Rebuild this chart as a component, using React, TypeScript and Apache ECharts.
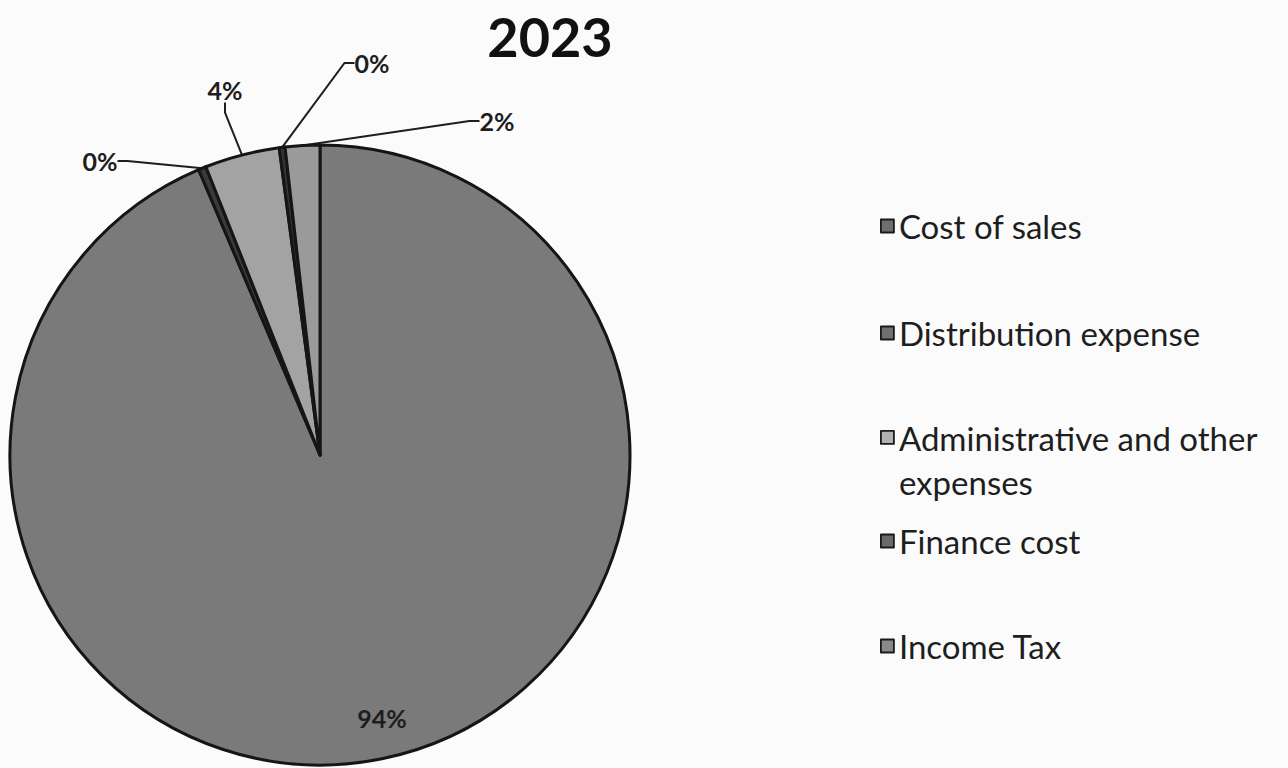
import React, { useEffect, useRef } from "react";
import * as echarts from "echarts";

const titleText = "2023";
const categories = [
  "Cost of sales",
  "Distribution expense",
  "Administrative and other expenses",
  "Finance cost",
  "Income Tax",
];
const values = [93.6, 0.4, 3.9, 0.3, 1.8];
const sliceColors = ["#7a7a7a", "#3a3a3a", "#a3a3a3", "#333333", "#9a9a9a"];
const legendColors = ["#6e6e6e", "#707070", "#b0b0b0", "#6a6a6a", "#8a8a8a"];
const legendLabels = [
  "Cost of sales",
  "Distribution expense",
  "Administrative and other\nexpenses",
  "Finance cost",
  "Income Tax",
];

// label anchor positions (layout only)
const labelPos = [
  [382, 718],
  [100, 161],
  [225, 90],
  [372, 63],
  [497, 121],
];
const legendTops = [207, 314, 415, 522, 627];

export default function App() {
  const ref = useRef<HTMLDivElement>(null);
  useEffect(() => {
    if (!ref.current) return;
    const chart = echarts.init(ref.current, null, { renderer: "svg" });
    const font = "Lato, 'Open Sans', sans-serif";
    const legends = categories.map((name, i) => {
      const isTwo = i === 2;
      return {
        orient: "vertical",
        left: 880,
        top: legendTops[i],
        padding: 0,
        data: [name],
        itemWidth: 13,
        itemHeight: isTwo ? 88 : 13,
        icon: isTwo ? "path://M0,15H13V28H0Z M0,0 M13,88" : "rect",
        selectedMode: false,
        itemStyle: { color: legendColors[i], borderColor: "#1a1a1a", borderWidth: 1.8 },
        formatter: () => legendLabels[i],
        textStyle: {
          fontFamily: font,
          fontSize: 33,
          color: "#1e1e1e",
          lineHeight: isTwo ? 44 : 38,
        },
      };
    });
    const option: any = {
      animation: false,
      backgroundColor: "#fbfbfb",
      title: {
        text: titleText,
        left: 545,
        textAlign: "center",
        top: 4,
        textStyle: {
          fontFamily: font,
          fontSize: 54,
          fontWeight: "bold",
          color: "#111",
        },
      },
      legend: legends,
      series: [
        {
          type: "pie",
          center: [320, 455],
          radius: [0, 310],
          startAngle: 90,
          clockwise: true,
          percentPrecision: 0,
          avoidLabelOverlap: false,
          itemStyle: { borderColor: "#151515", borderWidth: 3 },
          label: {
            show: true,
            formatter: "{d}%",
            fontFamily: font,
            fontSize: 25,
            fontWeight: "bold",
            color: "#1e1e1e",
          },
          labelLine: {
            show: true,
            length: 20,
            length2: 10,
            lineStyle: { color: "#1e1e1e", width: 2 },
          },
          labelLayout: (params: any) => {
            const p = labelPos[params.dataIndex];
            return { x: p[0], y: p[1], align: "center", verticalAlign: "middle" };
          },
          data: categories.map((name, i) => ({
            name,
            value: values[i],
            itemStyle: { color: sliceColors[i] },
            ...(i === 0
              ? { label: { position: "inside" }, labelLine: { show: false } }
              : {}),
          })),
        },
      ],
    };
    chart.setOption(option);
    return () => chart.dispose();
  }, []);
  return (
    <div
      ref={ref}
      style={{ position: "fixed", left: 0, top: 0, width: 1288, height: 768 }}
    />
  );
}
